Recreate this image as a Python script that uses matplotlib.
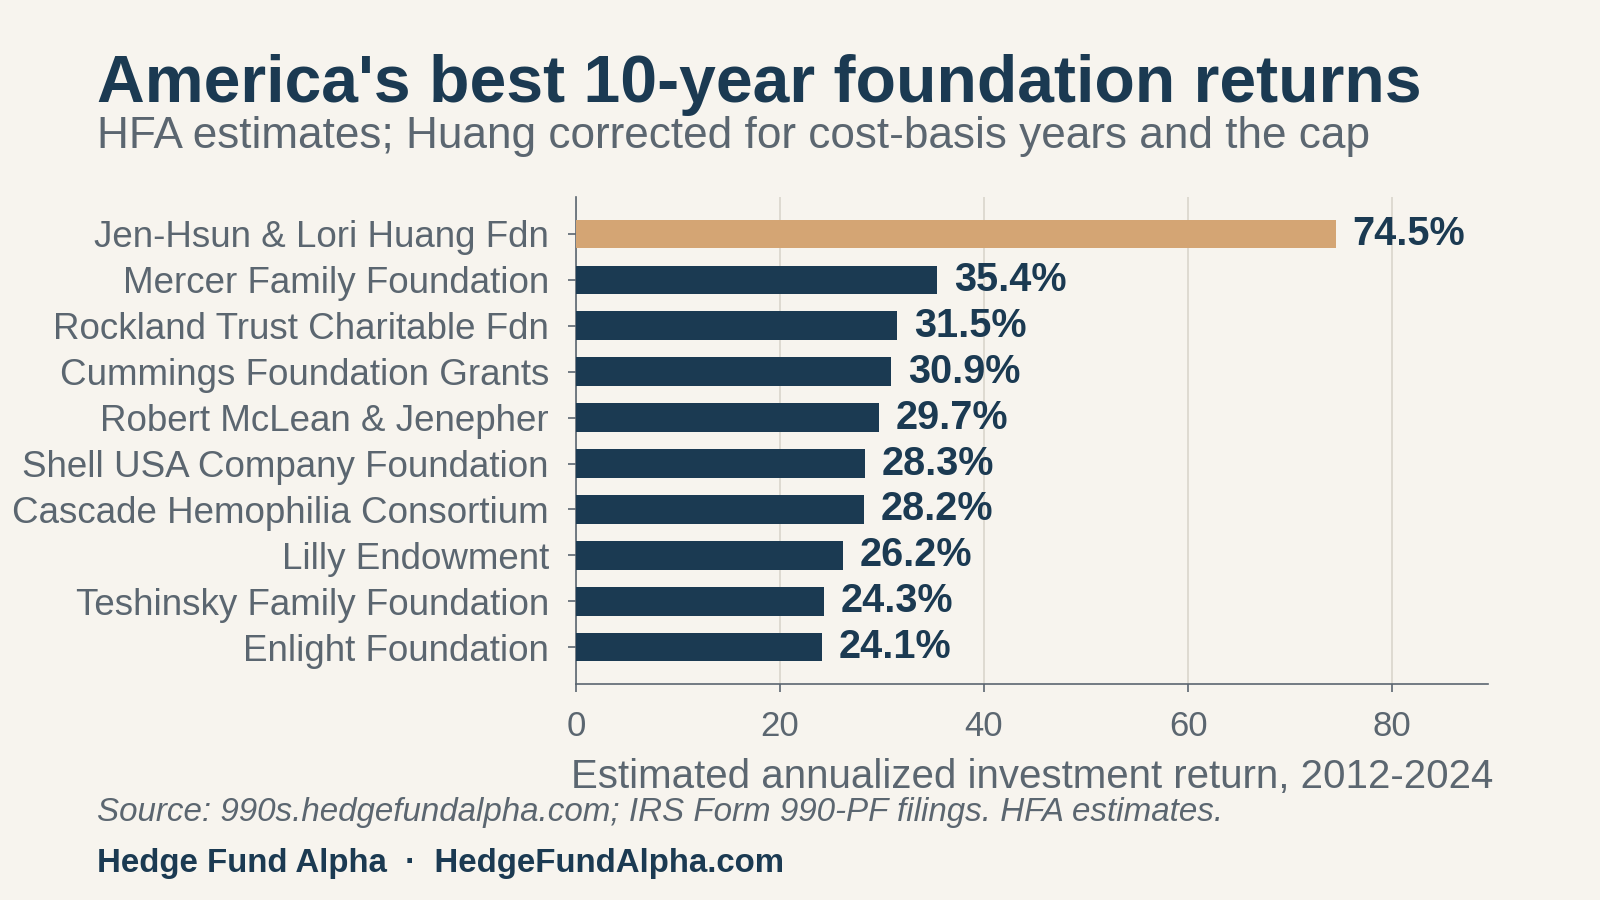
import matplotlib
matplotlib.use("Agg")
import matplotlib.pyplot as plt

names = ["Jen-Hsun & Lori Huang Fdn", "Mercer Family Foundation", "Rockland Trust Charitable Fdn",
         "Cummings Foundation Grants", "Robert McLean & Jenepher", "Shell USA Company Foundation",
         "Cascade Hemophilia Consortium", "Lilly Endowment", "Teshinsky Family Foundation",
         "Enlight Foundation"]
returns = [74.5, 35.4, 31.5, 30.9, 29.7, 28.3, 28.2, 26.2, 24.3, 24.1]
xticks = [0, 20, 40, 60, 80]

BG = "#f7f4ee"
NAVY = "#1b3a52"
TAN = "#d4a574"
GRAY = "#5b6670"
GRID = "#d9d5cc"

plt.rcParams['font.family'] = ['Liberation Sans', 'DejaVu Sans']

fig = plt.figure(figsize=(16, 9), dpi=100, facecolor=BG)
ax = fig.add_axes([0.360, 0.240, 0.570, 0.541], facecolor=BG)

ypos = list(range(len(names)))
colors = [TAN] + [NAVY] * (len(names) - 1)
ax.barh(ypos, returns, height=0.62, color=colors, zorder=3)
for y, v in zip(ypos, returns):
    ax.annotate(f"{v:.1f}%", xy=(v, y), xytext=(12, 0), textcoords="offset points",
                va="center", ha="left", fontsize=28.5, fontweight="bold", color=NAVY)

ax.set_ylim(len(names) - 0.2, -0.8)
ax.set_xlim(0, max(returns) * 1.2)
ax.set_yticks(ypos)
ax.set_yticklabels(names, fontsize=26.5, color=GRAY)
ax.set_xticks(xticks)
ax.set_xticklabels([str(t) for t in xticks], fontsize=25, color=GRAY)
ax.tick_params(axis='both', colors=GRAY, length=6, width=1.2)
ax.tick_params(axis='x', pad=12.5)
ax.tick_params(axis='y', pad=13.5)
for lab in ax.get_yticklabels() + ax.get_xticklabels():
    lab.set_color(GRAY)
ax.grid(axis='x', color=GRID, linewidth=1.2, zorder=0)
ax.set_axisbelow(True)
for s in ["top", "right"]:
    ax.spines[s].set_visible(False)
for s in ["left", "bottom"]:
    ax.spines[s].set_color(GRAY)
    ax.spines[s].set_linewidth(1.2)
ax.set_xlabel("Estimated annualized investment return, 2012-2024", fontsize=29, color=GRAY, labelpad=11)

fig.text(0.0606, 0.887, "America's best 10-year foundation returns", fontsize=47.6, fontweight="bold",
         color=NAVY, ha="left", va="baseline")
fig.text(0.0606, 0.836, "HFA estimates; Huang corrected for cost-basis years and the cap", fontsize=31.8,
         color=GRAY, ha="left", va="baseline")
fig.text(0.0606, 0.088, "Source: 990s.hedgefundalpha.com; IRS Form 990-PF filings. HFA estimates.",
         fontsize=23.9, style="italic", color=GRAY, ha="left", va="baseline")
fig.text(0.0606, 0.031, "Hedge Fund Alpha  ·  HedgeFundAlpha.com", fontsize=23.8, fontweight="bold",
         color=NAVY, ha="left", va="baseline")

fig.savefig("out.png", dpi=100, facecolor=BG)
